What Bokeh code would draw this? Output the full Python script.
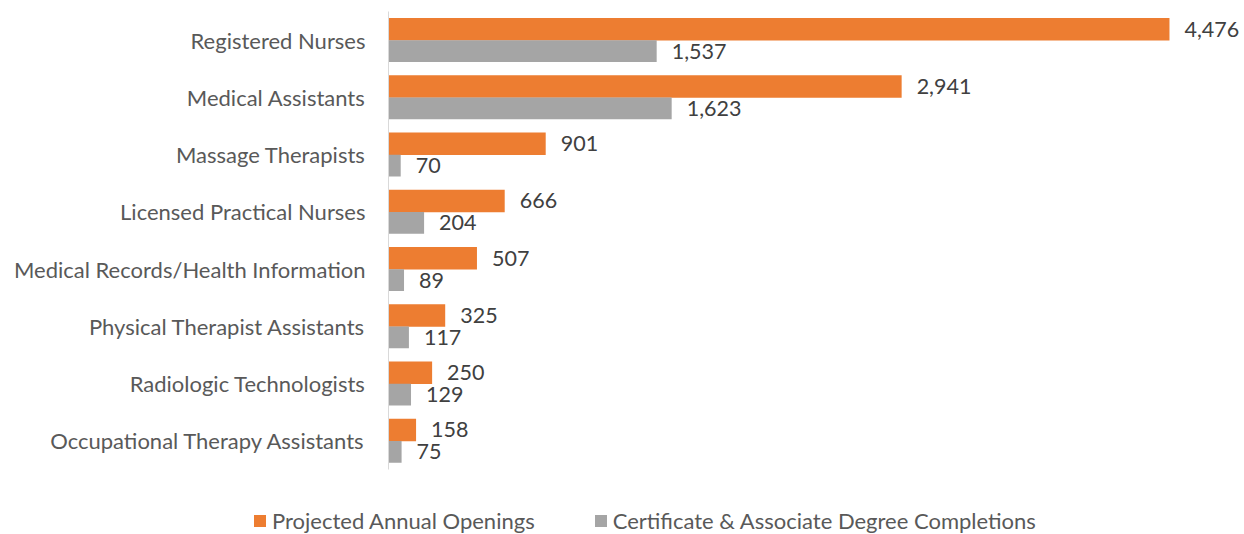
from bokeh.plotting import figure
from bokeh.layouts import column
from bokeh.models import ColumnDataSource, FactorRange, Range1d, LabelSet, Legend, LegendItem
from bokeh.transform import dodge
from bokeh.core.properties import value
from bokeh.embed import file_html
from bokeh.resources import INLINE

categories = ["Registered Nurses", "Medical Assistants", "Massage Therapists",
              "Licensed Practical Nurses", "Medical Records/Health Information",
              "Physical Therapist Assistants", "Radiologic Technologists",
              "Occupational Therapy Assistants"]
openings = [4476, 2941, 901, 666, 507, 325, 250, 158]
completions = [1537, 1623, 70, 204, 89, 117, 129, 75]
series_names = ["Projected Annual Openings", "Certificate & Associate Degree Completions"]
colors = ["#ED7D31", "#A5A5A5"]

FONT = "Lato"
FS = "21.5px"
FS_CAT = "22px"
src = ColumnDataSource(dict(
    cat=categories, openings=openings, completions=completions,
    open_lbl=[f"{v:,}" for v in openings],
    comp_lbl=[f"{v:,}" for v in completions],
))

p = figure(width=1244, height=478, output_backend="svg", toolbar_location=None,
           y_range=FactorRange(*reversed(categories)), x_range=Range1d(0, 4906),
           x_axis_location=None, min_border_left=388, min_border_right=0,
           min_border_top=11, min_border_bottom=9)
p.outline_line_color = None
p.grid.visible = False

p.hbar(y=dodge("cat", 0.19, range=p.y_range), right="openings", left=0, height=0.39,
       source=src, color=colors[0], line_color=None)
p.hbar(y=dodge("cat", -0.19, range=p.y_range), right="completions", left=0, height=0.38,
       source=src, color=colors[1], line_color=None)

for col, xs, off in (("open_lbl", "openings", 0.19), ("comp_lbl", "completions", -0.19)):
    p.add_layout(LabelSet(x=xs, y=dodge("cat", off, range=p.y_range), text=col, source=src,
                          x_offset=15, text_baseline="middle", text_font=value(FONT),
                          text_font_size=FS, text_color="#404040"))

ax = p.yaxis[0]
ax.axis_line_color = "#D9D9D9"
ax.axis_line_width = 1
ax.major_tick_line_color = None
ax.minor_tick_line_color = None
ax.major_label_standoff = 17
ax.major_label_text_font = FONT
ax.major_label_text_font_size = FS_CAT
ax.major_label_text_color = "#595959"

# legend strip below the chart
lg = figure(width=1244, height=56, output_backend="svg", toolbar_location=None,
            x_range=Range1d(0, 1), y_range=Range1d(0, 1),
            x_axis_location=None, y_axis_location=None,
            min_border_left=0, min_border_right=0, min_border_top=0, min_border_bottom=0)
lg.outline_line_color = None
lg.grid.visible = False
for fig in (p, lg):
    if "frame_align" in fig.properties():
        fig.frame_align = False
nan = float("nan")
d1 = lg.rect(x=[nan], y=[nan], width=0.1, height=0.1, color=colors[0], line_color=None)
d2 = lg.rect(x=[nan], y=[nan], width=0.1, height=0.1, color=colors[1], line_color=None)
legend = Legend(items=[LegendItem(label=series_names[0], renderers=[d1]),
                       LegendItem(label=series_names[1], renderers=[d2])],
                orientation="horizontal", location=(252, 0),
                glyph_width=15, glyph_height=15, label_standoff=5, spacing=58,
                padding=0, margin=0, border_line_color=None, background_fill_alpha=0,
                label_text_font=FONT, label_text_font_size=FS_CAT, label_text_color="#595959")
lg.add_layout(legend, "center")

page = column(p, lg, spacing=0)
open("out.html", "w").write(file_html(page, INLINE))
